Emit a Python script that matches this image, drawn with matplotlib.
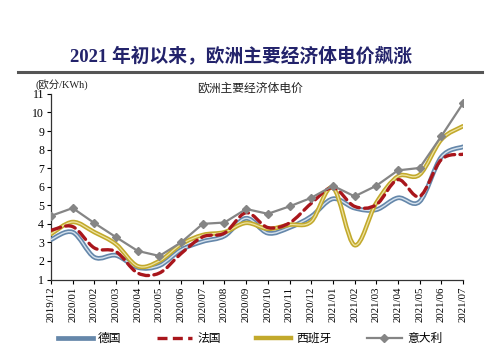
#! /usr/bin/env python3

"""
European electricity prices 2019/12 - 2021/07, smoothed lines like the source chart.
"""

import numpy as np
import matplotlib
matplotlib.use("Agg")
import matplotlib.pyplot as plt
from matplotlib.path import Path
from matplotlib.patches import PathPatch
from matplotlib.lines import Line2D

plt.rcParams["font.family"] = ["Liberation Serif", "Noto Sans CJK SC", "DejaVu Sans"]

months = ["2019/12", "2020/01", "2020/02", "2020/03", "2020/04", "2020/05",
          "2020/06", "2020/07", "2020/08", "2020/09", "2020/10", "2020/11",
          "2020/12", "2021/01", "2021/02", "2021/03", "2021/04", "2021/05",
          "2021/06", "2021/07"]

germany = [3.15, 3.55, 2.2, 2.3, 1.65, 1.75, 2.6, 3.05, 3.35, 4.3, 3.5, 3.8,
           4.4, 5.35, 4.85, 4.76, 5.4, 5.2, 7.6, 8.15]
france = [3.65, 3.85, 2.7, 2.5, 1.35, 1.35, 2.4, 3.3, 3.5, 4.6, 3.8, 4.05,
          5.1, 5.95, 4.94, 5.03, 6.38, 5.48, 7.46, 7.75]
spain = [3.45, 4.1, 3.55, 2.9, 1.72, 2.0, 2.9, 3.4, 3.55, 4.05, 3.73, 3.95,
         4.12, 5.95, 2.85, 5.13, 6.56, 6.65, 8.54, 9.26]
italy = [4.43, 4.85, 4.04, 3.28, 2.54, 2.27, 3.0, 4.0, 4.07, 4.8, 4.54, 4.94,
         5.4, 6.05, 5.48, 6.05, 6.88, 7.01, 8.72, 10.49]

names = ["德国", "法国", "西班牙", "意大利"]


def smooth_path(y):
    """Catmull-Rom style bezier path through the monthly points."""
    x = np.arange(len(y), dtype=float)
    y = np.asarray(y, dtype=float)
    pts = np.column_stack([x, y])
    verts = [pts[0]]
    codes = [Path.MOVETO]
    n = len(pts)
    for i in range(n - 1):
        p0 = pts[max(i - 1, 0)]
        p1 = pts[i]
        p2 = pts[i + 1]
        p3 = pts[min(i + 2, n - 1)]
        c1 = p1 + (p2 - p0) / 6.0
        c2 = p2 - (p3 - p1) / 6.0
        verts += [c1, c2, p2]
        codes += [Path.CURVE4] * 3
    return Path(verts, codes)


def add_curve(ax, y, **kw):
    ax.add_patch(PathPatch(smooth_path(y), fill=False, capstyle="round",
                           joinstyle="round", **kw))


fig = plt.figure(figsize=(5.0, 3.57), dpi=100)
ax = fig.add_axes([0.102, 0.217, 0.824, 0.52])

# Germany: blue double line
add_curve(ax, germany, edgecolor="#6587AA", linewidth=3.4, zorder=3)
add_curve(ax, germany, edgecolor="#D5E2EE", linewidth=1.0, zorder=3.1)
# Spain: olive yellow double line
add_curve(ax, spain, edgecolor="#C2A92C", linewidth=3.2, zorder=4)
add_curve(ax, spain, edgecolor="#EEE3A0", linewidth=0.9, zorder=4.1)
# France: dark red dashed
add_curve(ax, france, edgecolor="#A9161C", linewidth=2.4,
          linestyle=(0, (3, 1.6)), zorder=5)
# Italy: grey with diamond markers
ax.plot(np.arange(len(italy)), italy, color="#858585", linewidth=1.6,
        marker="D", markersize=4.2, zorder=6)

ax.set_xlim(0, len(months) - 1)
ax.set_ylim(1, 11)
ax.set_yticks(range(1, 12))
ax.set_xticks(range(len(months)))
ax.set_xticklabels(months, rotation=90, fontsize=7.8)
ax.tick_params(axis="y", labelsize=8.5, length=3, width=0.8, pad=2)
ax.tick_params(axis="x", length=3, width=0.8, pad=2)
for side in ["top", "right"]:
    ax.spines[side].set_visible(False)
for side in ["left", "bottom"]:
    ax.spines[side].set_linewidth(0.9)
    ax.spines[side].set_color("#333333")

# titles
fig.text(0.482, 0.84, "2021 年初以来，欧洲主要经济体电价飙涨", ha="center",
         va="center", fontsize=13.5, fontweight="bold", color="#23236B")
fig.add_artist(Line2D([0.036, 0.964], [0.798, 0.798], color="#555555",
                      linewidth=2.2, transform=fig.transFigure))
fig.text(0.5, 0.753, "欧洲主要经济体电价", ha="center", va="center",
         fontsize=8.5, color="#222222")
fig.text(0.07, 0.762, "(欧分/KWh)", ha="left", va="center", fontsize=7.5,
         color="#222222")

handles = [
    Line2D([], [], color="#6587AA", linewidth=3.4),
    Line2D([], [], color="#A9161C", linewidth=2.4, linestyle=(0, (3, 1.6))),
    Line2D([], [], color="#C2A92C", linewidth=3.2),
    Line2D([], [], color="#858585", linewidth=1.6, marker="D", markersize=4),
]
fig.legend(handles, names, loc="center", bbox_to_anchor=(0.5, 0.05), ncol=4,
           frameon=False, fontsize=8.5, handlelength=3.0, columnspacing=3.0,
           handletextpad=0.4)

fig.savefig("out.png", dpi=100)
